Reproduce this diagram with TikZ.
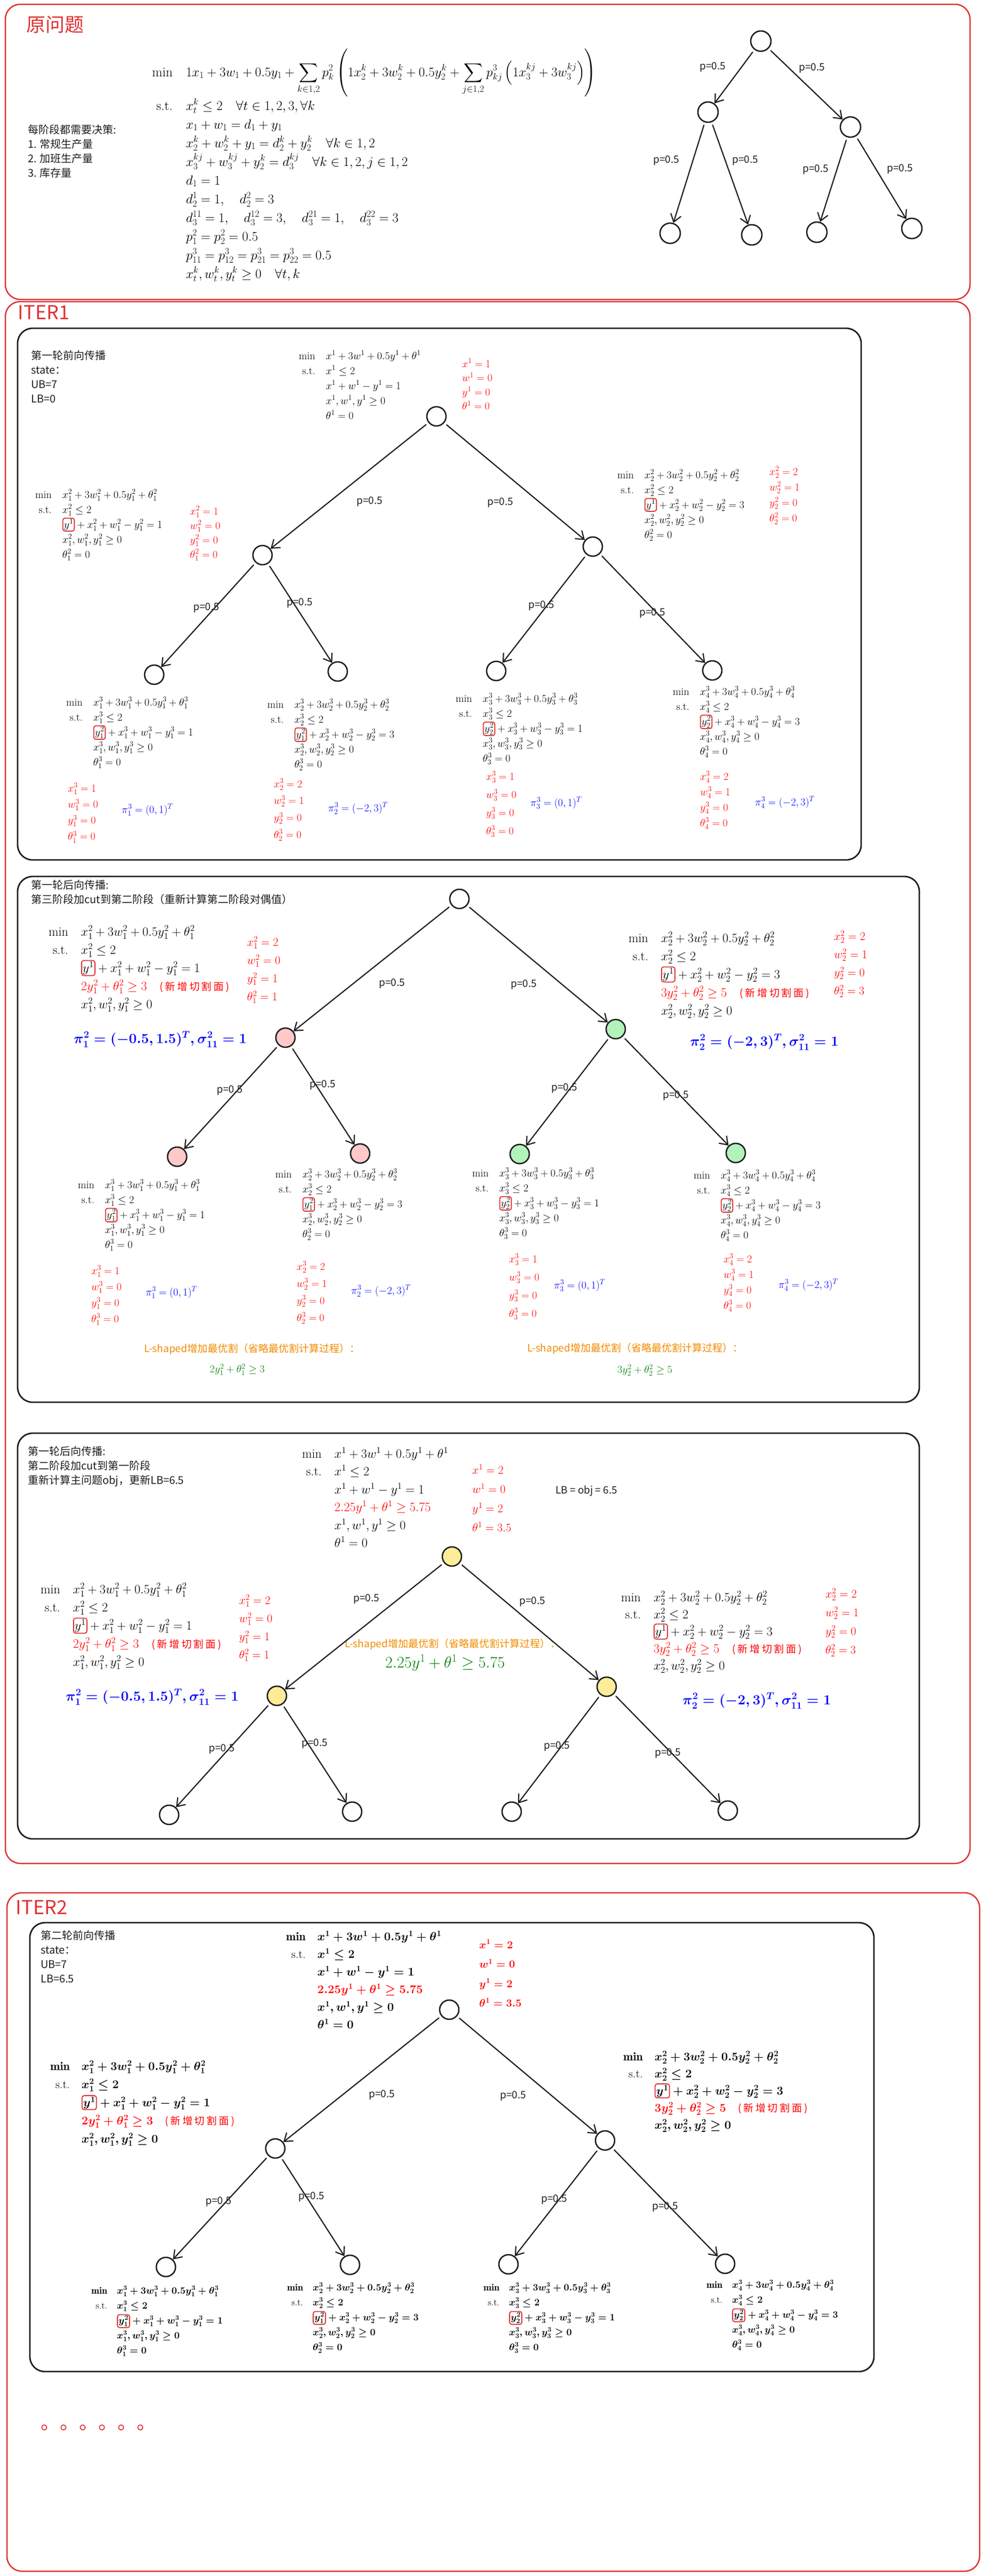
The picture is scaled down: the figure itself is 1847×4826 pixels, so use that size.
\RequirePackage{fix-cm}
\documentclass[tikz,border=0pt]{standalone}
\usepackage{amsmath}
\usepackage{fontspec}
\usepackage{xcolor}
\usepackage{tikz}
\usetikzlibrary{
    shapes,
    positioning,
    calc,
    arrows.meta
}
\newfontfamily\cjk{Noto Sans CJK SC}
\definecolor{exred}{HTML}{E03131}
\definecolor{exgray}{HTML}{1E1E1E}
\definecolor{expink}{HTML}{FFC9C9}
\definecolor{exgreen}{HTML}{B2F2BB}
\definecolor{exyellow}{HTML}{FFEC99}
\definecolor{exorange}{HTML}{F08C00}
\newcommand{\sz}[2]{\fontsize{#1}{#2}\selectfont}
\tikzset{
  redframe/.style = {
      draw=exred,
      line width=2.5pt,
      rounded corners=28pt
  },
  blkframe/.style = {
      draw=exgray,
      line width=2.8pt,
      rounded corners=28pt
  },
  ttl/.style = {
      text=exred,
      font=\cjk\sz{36}{36},
      inner sep=0pt
  },
  note/.style = {
      font=\cjk\sz{20}{27},
      text=exgray,
      align=left,
      inner sep=0pt,
      anchor=north west
  },
  stnode/.style = {
      circle,
      draw=exgray,
      line width=2.6pt,
      minimum size=36pt,
      inner sep=0pt,
      fill=white
  },
  arr/.style = {
      draw=exgray,
      line width=2.2pt,
      -{Straight Barb[length=14pt,width=20pt]},
      shorten <=5pt
  },
  plab/.style = {
      font=\cjk\sz{19}{19},
      text=exgray,
      inner sep=0pt
  },
  prob/.style = {
      inner sep=0pt,
      anchor=base west,
      font=\sz{20}{28}
  },
  probl/.style = {
      inner sep=0pt,
      anchor=base west,
      font=\sz{24}{#1}
  },
  gprob/.style = {
      inner sep=0pt,
      anchor=base west,
      font=\sz{22}{#1}\boldmath
  },
  gleaf/.style = {
      inner sep=0pt,
      anchor=base west,
      font=\sz{18}{28}\boldmath
  },
  valblk/.style = {
      inner sep=0pt,
      anchor=base west,
      text=red,
      font=\sz{20}{#1}
  },
  valbig/.style = {
      valblk=#1,
      font=\sz{22}{#1}
  },
  piblk/.style = {
      inner sep=0pt,
      anchor=base west,
      text=blue,
      font=\sz{20}{20}
  },
  pibig/.style = {
      piblk,
      font=\sz{26}{26}\boldmath
  },
  orng/.style = {
      inner sep=0pt,
      anchor=west,
      text=exorange,
      font=\cjk\sz{19}{19}
  },
  grn/.style = {
      inner sep=0pt,
      anchor=west,
      text=green!50!black,
      font=\sz{20}{20}
  },
  ybox/.style = {
      draw=exred,
      line width=1.8pt,
      rounded corners=4pt,
      inner sep=2pt
  }
}
% boxed coupling variable
\newcommand{\yb}[1]{\tikz[baseline=(yb.base)]\node[ybox](yb){$#1$};}
\newcommand{\cutnote}{{\cjk\addfontfeature{LetterSpace=20}\sz{19}{19}(新增切割面)}}
% first stage
\newcommand{\rootfw}{\begin{array}[t]{@{}r@{\quad}l@{}}
 \min & x^1+3w^1+0.5y^1+\theta^1\\
 \text{s.t.} & x^1\le 2\\
 & x^1+w^1-y^1=1\\
 & x^1,w^1,y^1\ge 0\\
 & \theta^1=0
\end{array}}
\newcommand{\rootcut}{\begin{array}[t]{@{}r@{\quad}l@{}}
 \min & x^1+3w^1+0.5y^1+\theta^1\\
 \text{s.t.} & x^1\le 2\\
 & x^1+w^1-y^1=1\\
 & \color{red}2.25y^1+\theta^1\ge 5.75\\
 & x^1,w^1,y^1\ge 0\\
 & \theta^1=0
\end{array}}
% second stage
\newcommand{\midfw}[2]{\begin{array}[t]{@{}r@{\quad}l@{}}
 \min & x_{#1}^2+3w_{#1}^2+0.5y_{#1}^2+\theta_{#1}^2\\
 \text{s.t.} & x_{#1}^2\le 2\\
 & \yb{y^1}+x_{#1}^2+w_{#1}^2-y_{#1}^2=#2\\
 & x_{#1}^2,w_{#1}^2,y_{#1}^2\ge 0\\
 & \theta_{#1}^2=0
\end{array}}
\newcommand{\midcut}[3]{\begin{array}[t]{@{}r@{\quad}l@{}}
 \min & x_{#1}^2+3w_{#1}^2+0.5y_{#1}^2+\theta_{#1}^2\\
 \text{s.t.} & x_{#1}^2\le 2\\
 & \yb{y^1}+x_{#1}^2+w_{#1}^2-y_{#1}^2=#2\\
 & \color{red}#3\quad\text{\cutnote}\\
 & x_{#1}^2,w_{#1}^2,y_{#1}^2\ge 0
\end{array}}
% third stage
\newcommand{\leafpb}[3]{\begin{array}[t]{@{}r@{\quad}l@{}}
 \min & x_{#1}^3+3w_{#1}^3+0.5y_{#1}^3+\theta_{#1}^3\\
 \text{s.t.} & x_{#1}^3\le 2\\
 & \yb{#2}+x_{#1}^3+w_{#1}^3-y_{#1}^3=#3\\
 & x_{#1}^3,w_{#1}^3,y_{#1}^3\ge 0\\
 & \theta_{#1}^3=0
\end{array}}
\newcommand{\vals}[5]{\begin{array}[t]{@{}l@{}}
 x#1=#2\\ w#1=#3\\ y#1=#4\\ \theta#1=#5
\end{array}}

\begin{document}
\begin{tikzpicture}[x=1pt,y=-1pt]
\useasboundingbox (0,0) rectangle (1847,4826);
% Frames
\draw[redframe] (10,8) rectangle (1818,561);
\draw[redframe] (10,565) rectangle (1818,3491);
\draw[redframe] (13,3546) rectangle (1836,4817);
\draw[blkframe] (33,615) rectangle (1614,1611);
\draw[blkframe] (33,1642) rectangle (1723,2627);
\draw[blkframe] (33,2685) rectangle (1723,3445);
\draw[blkframe] (56,3602) rectangle (1638,4443);

% Original problem
\node[ttl] (t0) at (103,46) {原问题};
\node[note] (n0) at (52,233) {每阶段都需要决策:\\1. 常规生产量\\2. 加班生产量\\3. 库存量};
\node[prob, font=\sz{25}{35}] (orig) at (285,143) {$\begin{array}[t]{@{}r@{\quad}l@{}}
 \min & \displaystyle 1x_1+3w_1+0.5y_1+\sum_{k\in 1,2}p_k^2\left(1x_2^k+3w_2^k+0.5y_2^k+\sum_{j\in 1,2}p_{kj}^3\left(1x_3^{kj}+3w_3^{kj}\right)\right)\\
 \text{s.t.} & x_t^k\le 2\quad \forall t\in 1,2,3,\forall k\\
 & x_1+w_1=d_1+y_1\\
 & x_2^k+w_2^k+y_1=d_2^k+y_2^k\quad \forall k\in 1,2\\
 & x_3^{kj}+w_3^{kj}+y_2^k=d_3^{kj}\quad \forall k\in 1,2,j\in 1,2\\
 & d_1=1\\
 & d_2^1=1,\quad d_2^2=3\\
 & d_3^{11}=1,\quad d_3^{12}=3,\quad d_3^{21}=1,\quad d_3^{22}=3\\
 & p_1^2=p_2^2=0.5\\
 & p_{11}^3=p_{12}^3=p_{21}^3=p_{22}^3=0.5\\
 & x_t^k,w_t^k,y_t^k\ge 0\quad \forall t,k
\end{array}$};
\foreach \n/\x/\y in {a/1426/77, b/1327/210, c/1594/238, d/1256/437, e/1409/440, f/1531/435, g/1709/428}
  \node[stnode, minimum size=38pt] (o\n) at (\x,\y) {};
\foreach \n/\x/\y in {1/1336/126, 2/1522/128, 3/1249/301, 4/1397/301, 5/1529/318, 6/1687/317}
  \node[plab] (ol\n) at (\x,\y) {p=0.5};

% ITER1: forward pass
\node[ttl] (t1) at (82,585) {ITER1};
\node[note] (n1) at (58,656) {第一轮前向传播\\state：\\UB=7\\LB=0};
\node[prob] (frp) at (560,673) {$\rootfw$};
\node[valblk=26.5] (frv) at (866,688) {$\vals{^1}{1}{0}{0}{0}$};
\node[prob] (fbp) at (66,933) {$\midfw{1}{1}$};
\node[valblk=27] (fbv) at (356,964) {$\vals{_1^2}{1}{0}{0}{0}$};
\node[prob] (fcp) at (1157,896) {$\midfw{2}{3}$};
\node[valblk=29] (fcv) at (1442,890) {$\vals{_2^2}{2}{1}{0}{0}$};
\node[prob] (fdp) at (124,1322) {$\leafpb{1}{y_1^2}{1}$};
\node[valblk=30.3] (fdv) at (127,1483) {$\vals{_1^3}{1}{0}{0}{0}$};
\node[piblk] (fdq) at (228,1523) {$\pi_1^3=(0,1)^T$};
\node[prob] (fep) at (501,1326) {$\leafpb{2}{y_1^2}{3}$};
\node[valblk=31.7] (fev) at (513,1475) {$\vals{_2^3}{2}{1}{0}{0}$};
\node[piblk] (feq) at (615,1520) {$\pi_2^3=(-2,3)^T$};
\node[prob] (ffp) at (854,1315) {$\leafpb{3}{y_2^2}{1}$};
\node[valblk=34] (ffv) at (911,1461) {$\vals{_3^3}{1}{0}{0}{0}$};
\node[piblk] (ffq) at (994,1510) {$\pi_3^3=(0,1)^T$};
\node[prob] (fgp) at (1261,1302) {$\leafpb{4}{y_2^2}{3}$};
\node[valblk=29] (fgv) at (1312,1461) {$\vals{_4^3}{2}{1}{0}{0}$};
\node[piblk] (fgq) at (1415,1509) {$\pi_4^3=(-2,3)^T$};
\foreach \n/\x/\y in {a/818/780, b/492/1040, c/1111/1024, d/289/1264, e/633/1258, f/930/1257, g/1335/1256}
  \node[stnode] (f\n) at (\x,\y) {};
\foreach \n/\x/\y in {1/693/940, 2/938/942, 3/387/1139, 4/562/1130, 5/1015/1135, 6/1223/1149}
  \node[plab] (fl\n) at (\x,\y) {p=0.5};

% ITER1: backward pass, stage 3 to stage 2
\node[note] (n2) at (58,1648) {第一轮后向传播:\\第三阶段加cut到第二阶段（重新计算第二阶段对偶值）};
\node[probl=34] (bbp) at (91,1753) {$\midcut{1}{1}{2y_1^2+\theta_1^2\ge 3}$};
\node[valbig=34] (bbv) at (463,1772) {$\vals{_1^2}{2}{0}{1}{1}$};
\node[pibig] (bbq) at (138,1954) {$\pi_1^2=(-0.5,1.5)^T,\sigma_{11}^2=1$};
\node[probl=34] (bcp) at (1178,1765) {$\midcut{2}{3}{3y_2^2+\theta_2^2\ge 5}$};
\node[valbig=34] (bcv) at (1563,1761) {$\vals{_2^2}{2}{1}{0}{3}$};
\node[pibig] (bcq) at (1293,1959) {$\pi_2^2=(-2,3)^T,\sigma_{11}^2=1$};
\node[prob] (bdp) at (146,2226) {$\leafpb{1}{y_1^2}{1}$};
\node[valblk=30] (bdv) at (171,2387) {$\vals{_1^3}{1}{0}{0}{0}$};
\node[piblk] (bdq) at (273,2427) {$\pi_1^3=(0,1)^T$};
\node[prob] (bep) at (516,2206) {$\leafpb{2}{y_1^2}{3}$};
\node[valblk=32] (bev) at (556,2379) {$\vals{_2^3}{2}{1}{0}{0}$};
\node[piblk] (beq) at (658,2424) {$\pi_2^3=(-2,3)^T$};
\node[prob] (bfp) at (885,2204) {$\leafpb{3}{y_2^2}{1}$};
\node[valblk=34] (bfv) at (954,2365) {$\vals{_3^3}{1}{0}{0}{0}$};
\node[piblk] (bfq) at (1038,2414) {$\pi_3^3=(0,1)^T$};
\node[prob] (bgp) at (1300,2208) {$\leafpb{4}{y_2^2}{3}$};
\node[valblk=29] (bgv) at (1356,2365) {$\vals{_4^3}{2}{1}{0}{0}$};
\node[piblk] (bgq) at (1459,2413) {$\pi_4^3=(-2,3)^T$};
\node[orng] (bo1) at (270,2528) {L-shaped增加最优割（省略最优割计算过程）：};
\node[grn] (bk1) at (393,2566) {$2y_1^2+\theta_1^2\ge 3$};
\node[orng] (bo2) at (988,2527) {L-shaped增加最优割（省略最优割计算过程）：};
\node[grn] (bk2) at (1157,2567) {$3y_2^2+\theta_2^2\ge 5$};
\foreach \n/\x/\y/\f in {a/861/1684/white, b/535/1944/expink, c/1154/1928/exgreen, d/332/2167/expink, e/675/2161/expink, f/974/2162/exgreen, g/1379/2160/exgreen}
  \node[stnode, fill=\f] (b\n) at (\x,\y) {};
\foreach \n/\x/\y in {1/735/1843, 2/982/1845, 3/431/2043, 4/605/2033, 5/1058/2039, 6/1267/2053}
  \node[plab] (bl\n) at (\x,\y) {p=0.5};

% ITER1: backward pass, stage 2 to stage 1
\node[note] (n3) at (52,2709) {第一轮后向传播:\\第二阶段加cut到第一阶段\\重新计算主问题obj，更新LB=6.5};
\node[probl=33.5] (crp) at (566,2731) {$\rootcut$};
\node[valbig=36] (crv) at (885,2761) {$\vals{^1}{2}{0}{2}{3.5}$};
\node[plab, anchor=west] (clb) at (1041,2793) {LB = obj = 6.5};
\node[orng] (co) at (646,3081) {L-shaped增加最优割（省略最优割计算过程）：};
\node[grn, font=\sz{30}{30}] (ck) at (722,3115) {$2.25y^1+\theta^1\ge 5.75$};
\node[probl=34] (cbp) at (76,2985) {$\midcut{1}{1}{2y_1^2+\theta_1^2\ge 3}$};
\node[valbig=34] (cbv) at (448,3005) {$\vals{_1^2}{2}{0}{1}{1}$};
\node[pibig] (cbq) at (123,3186) {$\pi_1^2=(-0.5,1.5)^T,\sigma_{11}^2=1$};
\node[probl=32] (ccp) at (1164,3000) {$\midcut{2}{3}{3y_2^2+\theta_2^2\ge 5}$};
\node[valbig=35] (ccv) at (1547,2993) {$\vals{_2^2}{2}{1}{0}{3}$};
\node[pibig] (ccq) at (1279,3193) {$\pi_2^2=(-2,3)^T,\sigma_{11}^2=1$};
\foreach \n/\x/\y/\f in {a/847/2916/exyellow, b/519/3177/exyellow, c/1137/3160/exyellow, d/317/3400/white, e/660/3394/white, f/959/3394/white, g/1364/3392/white}
  \node[stnode, fill=\f] (c\n) at (\x,\y) {};
\foreach \n/\x/\y in {1/687/2996, 2/998/3001, 3/416/3277, 4/590/3267, 5/1044/3272, 6/1252/3285}
  \node[plab] (cl\n) at (\x,\y) {p=0.5};

% ITER2: forward pass
\node[ttl] (t2) at (78,3573) {ITER2};
\node[note] (n4) at (76,3616) {第二轮前向传播\\state：\\UB=7\\LB=6.5};
\node[gprob=33] (grp) at (536,3635) {$\rootcut$};
\node[valblk=36.5, font=\sz{20}{36.5}\boldmath] (grv) at (898,3650) {$\vals{^1}{2}{0}{2}{3.5}$};
\node[gprob=34] (gbp) at (94,3878) {$\midcut{1}{1}{2y_1^2+\theta_1^2\ge 3}$};
\node[gprob=32] (gcp) at (1168,3860) {$\midcut{2}{3}{3y_2^2+\theta_2^2\ge 5}$};
\node[gleaf] (gdp) at (171,4297) {$\leafpb{1}{y_1^2}{1}$};
\node[gleaf] (gep) at (538,4291) {$\leafpb{2}{y_1^2}{3}$};
\node[gleaf] (gfp) at (906,4291) {$\leafpb{3}{y_2^2}{1}$};
\node[gleaf] (ggp) at (1324,4286) {$\leafpb{4}{y_2^2}{3}$};
\foreach \n/\x/\y in {a/842/3765, b/516/4025, c/1134/4010, d/311/4247, e/656/4243, f/953/4242, g/1359/4241}
  \node[stnode] (g\n) at (\x,\y) {};
\foreach \n/\x/\y in {1/716/3925, 2/962/3927, 3/410/4125, 4/584/4116, 5/1039/4121, 6/1247/4135}
  \node[plab] (gl\n) at (\x,\y) {p=0.5};
\node[ttl, anchor=base west] (dots) at (76,4551) {。。。。。。};

% Edges
\foreach \t in {o,f,b,c,g}
  \foreach \u/\v in {a/b, a/c, b/d, b/e, c/f, c/g}
    \draw[arr] (\t\u) -- (\t\v);
\end{tikzpicture}
\end{document}
